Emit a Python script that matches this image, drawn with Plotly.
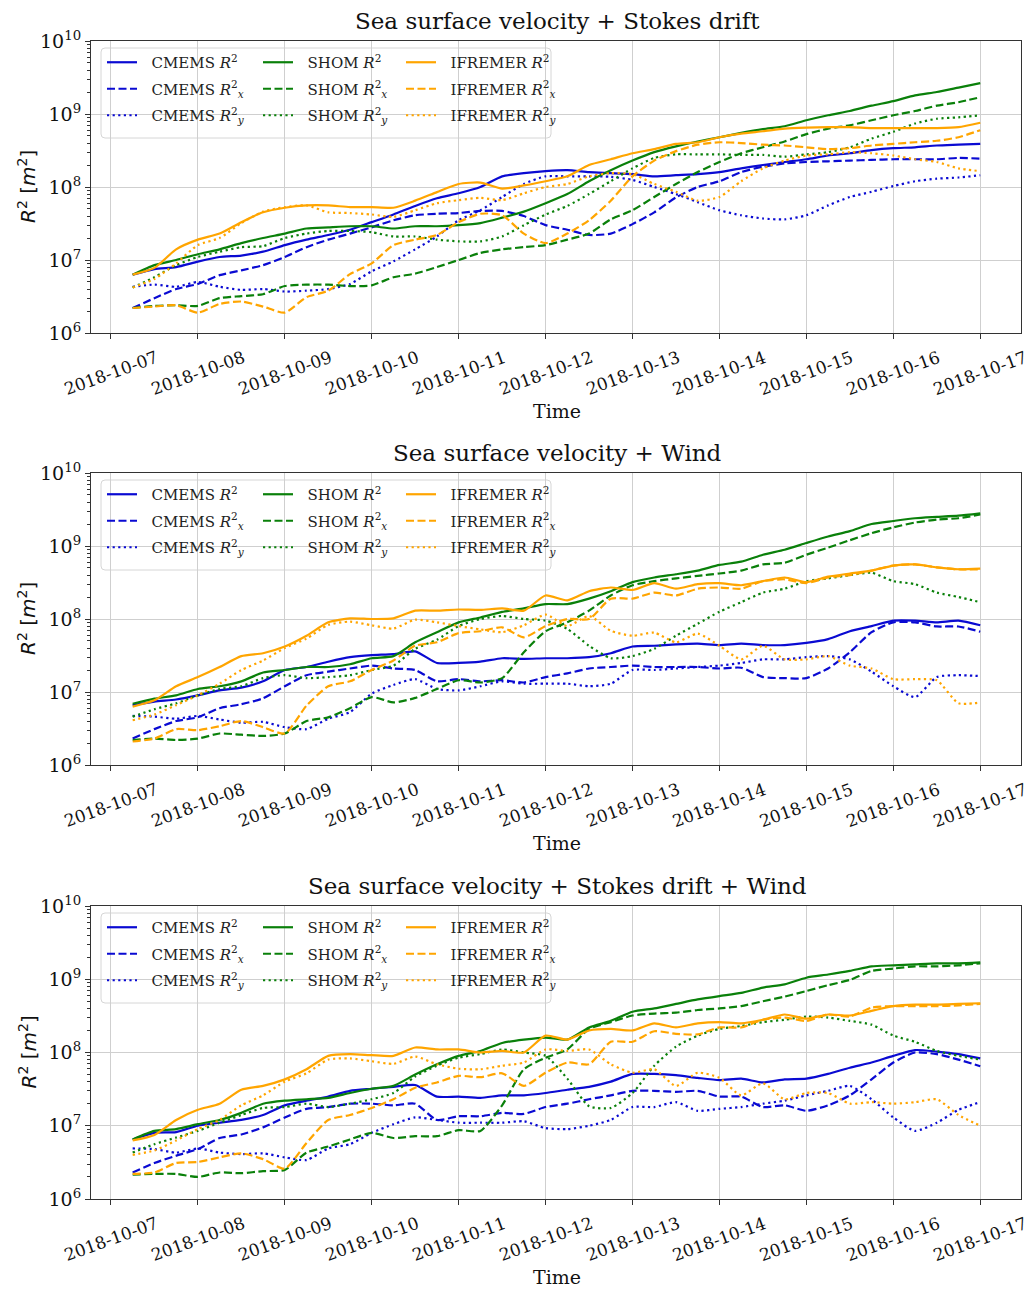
import pandas as pd
import plotly.graph_objects as go

# ---------------- data ----------------
times = pd.date_range("2018-10-07 06:00", periods=40, freq="6h")
day_ticks = pd.date_range("2018-10-07", "2018-10-17", freq="D")
tick_labels = [d.strftime("%Y-%m-%d") for d in day_ticks]

panel_titles = ["Sea surface velocity + Stokes drift",
                "Sea surface velocity + Wind",
                "Sea surface velocity + Stokes drift + Wind"]
sources = ["CMEMS", "SHOM", "IFREMER"]

# Panel 1: Stokes drift
stokes_cmems_r2 = [6.3e6, 7.5e6, 8.0e6, 9.5e6, 1.1e7, 1.15e7, 1.3e7, 1.6e7, 1.9e7, 2.2e7,
                   2.6e7, 3.3e7, 4.2e7, 5.5e7, 7.0e7, 8.2e7, 1.0e8, 1.4e8, 1.55e8, 1.65e8,
                   1.7e8, 1.6e8, 1.55e8, 1.5e8, 1.4e8, 1.45e8, 1.5e8, 1.6e8, 1.8e8, 2.0e8,
                   2.2e8, 2.4e8, 2.7e8, 2.9e8, 3.2e8, 3.4e8, 3.5e8, 3.7e8, 3.8e8, 3.9e8]
stokes_cmems_rx = [2.2e6, 3.0e6, 4.0e6, 4.7e6, 6.2e6, 7.2e6, 8.5e6, 1.1e7, 1.5e7, 1.9e7,
                   2.3e7, 2.8e7, 3.5e7, 4.1e7, 4.3e7, 4.4e7, 4.7e7, 4.7e7, 4.0e7, 3.0e7,
                   2.6e7, 2.2e7, 2.3e7, 3.1e7, 4.5e7, 7.2e7, 1.0e8, 1.2e8, 1.6e8, 1.9e8,
                   2.1e8, 2.2e8, 2.25e8, 2.3e8, 2.35e8, 2.4e8, 2.4e8, 2.4e8, 2.5e8, 2.45e8]
stokes_cmems_ry = [4.3e6, 4.6e6, 4.3e6, 5.0e6, 4.3e6, 3.9e6, 4.0e6, 3.7e6, 3.8e6, 4.0e6,
                   4.7e6, 7.0e6, 9.6e6, 1.4e7, 2.1e7, 3.5e7, 4.8e7, 7.3e7, 1.1e8, 1.4e8,
                   1.4e8, 1.4e8, 1.38e8, 1.25e8, 1.0e8, 8.0e7, 6.2e7, 4.8e7, 4.1e7, 3.7e7,
                   3.6e7, 4.1e7, 5.6e7, 7.3e7, 8.6e7, 1.03e8, 1.2e8, 1.3e8, 1.35e8, 1.45e8]
stokes_shom_r2 = [6.3e6, 8.5e6, 1.0e7, 1.2e7, 1.4e7, 1.7e7, 2.0e7, 2.3e7, 2.7e7, 2.8e7,
                  2.9e7, 2.9e7, 2.7e7, 2.9e7, 2.9e7, 3.0e7, 3.2e7, 3.8e7, 4.6e7, 6.0e7,
                  8.0e7, 1.2e8, 1.7e8, 2.3e8, 3.0e8, 3.6e8, 4.2e8, 4.8e8, 5.5e8, 6.2e8,
                  6.8e8, 8.2e8, 9.6e8, 1.1e9, 1.3e9, 1.5e9, 1.8e9, 2.0e9, 2.3e9, 2.65e9]
stokes_shom_rx = [2.2e6, 2.35e6, 2.4e6, 2.35e6, 3.0e6, 3.2e6, 3.4e6, 4.4e6, 4.6e6, 4.6e6,
                  4.4e6, 4.5e6, 5.8e6, 6.5e6, 8.0e6, 1.0e7, 1.25e7, 1.4e7, 1.5e7, 1.6e7,
                  1.9e7, 2.3e7, 3.6e7, 4.8e7, 7.3e7, 1.1e8, 1.6e8, 2.2e8, 2.9e8, 3.5e8,
                  4.2e8, 5.3e8, 6.3e8, 7.0e8, 8.2e8, 9.6e8, 1.1e9, 1.3e9, 1.45e9, 1.7e9]
stokes_shom_ry = [4.2e6, 5.8e6, 8.5e6, 1.1e7, 1.3e7, 1.5e7, 1.55e7, 2.0e7, 2.3e7, 2.5e7,
                  2.5e7, 2.4e7, 2.1e7, 2.1e7, 1.9e7, 1.8e7, 1.8e7, 2.1e7, 3.0e7, 4.2e7,
                  5.5e7, 8.0e7, 1.2e8, 1.8e8, 2.5e8, 2.8e8, 2.8e8, 2.8e8, 2.75e8, 2.75e8,
                  2.6e8, 2.8e8, 3.0e8, 3.5e8, 4.6e8, 5.7e8, 7.4e8, 8.6e8, 9.0e8, 9.6e8]
stokes_ifremer_r2 = [6.3e6, 7.8e6, 1.4e7, 1.9e7, 2.3e7, 3.3e7, 4.5e7, 5.2e7, 5.6e7, 5.6e7,
                     5.3e7, 5.3e7, 5.2e7, 6.5e7, 8.5e7, 1.1e8, 1.15e8, 9.5e7, 1.05e8, 1.2e8,
                     1.4e8, 2.0e8, 2.4e8, 2.9e8, 3.3e8, 3.9e8, 4.1e8, 4.8e8, 5.4e8, 5.8e8,
                     6.3e8, 6.5e8, 6.6e8, 6.6e8, 6.4e8, 6.4e8, 6.4e8, 6.4e8, 6.6e8, 7.6e8]
stokes_ifremer_rx = [2.2e6, 2.3e6, 2.4e6, 1.9e6, 2.5e6, 2.7e6, 2.3e6, 1.9e6, 3.1e6, 3.8e6,
                     6.4e6, 9.0e6, 1.6e7, 1.9e7, 2.2e7, 3.3e7, 4.3e7, 4.1e7, 2.3e7, 1.7e7,
                     2.3e7, 3.5e7, 6.5e7, 1.4e8, 2.3e8, 3.1e8, 3.8e8, 4.1e8, 4.0e8, 3.8e8,
                     3.7e8, 3.5e8, 3.3e8, 3.4e8, 3.7e8, 3.9e8, 4.1e8, 4.3e8, 4.8e8, 6.0e8]
stokes_ifremer_ry = [4.2e6, 5.5e6, 9.0e6, 1.6e7, 2.0e7, 3.2e7, 4.6e7, 5.3e7, 5.6e7, 4.5e7,
                     4.4e7, 4.2e7, 3.9e7, 4.8e7, 6.0e7, 6.6e7, 7.1e7, 6.6e7, 8.2e7, 1.0e8,
                     1.1e8, 1.4e8, 1.55e8, 1.5e8, 1.1e8, 8.6e7, 6.5e7, 7.3e7, 1.2e8, 1.8e8,
                     2.3e8, 2.7e8, 2.8e8, 3.0e8, 2.9e8, 2.7e8, 2.4e8, 2.2e8, 1.8e8, 1.65e8]

# Panel 2: Wind
wind_cmems_r2 = [6.6e6, 7.4e6, 7.9e6, 9.0e6, 1.05e7, 1.15e7, 1.4e7, 2.0e7, 2.2e7, 2.6e7,
                 3.0e7, 3.2e7, 3.3e7, 3.6e7, 2.5e7, 2.5e7, 2.6e7, 2.9e7, 2.85e7, 2.9e7,
                 2.9e7, 3.0e7, 3.4e7, 4.2e7, 4.3e7, 4.5e7, 4.6e7, 4.4e7, 4.6e7, 4.4e7,
                 4.4e7, 4.7e7, 5.3e7, 6.8e7, 8.0e7, 9.5e7, 9.5e7, 9.0e7, 9.5e7, 8.2e7]
wind_cmems_rx = [2.3e6, 3.1e6, 4.0e6, 4.5e6, 6.0e6, 6.8e6, 8.2e6, 1.2e7, 1.7e7, 1.9e7,
                 2.1e7, 2.3e7, 2.1e7, 2.0e7, 1.4e7, 1.5e7, 1.4e7, 1.45e7, 1.35e7, 1.6e7,
                 1.8e7, 2.1e7, 2.2e7, 2.3e7, 2.2e7, 2.2e7, 2.2e7, 2.1e7, 2.15e7, 1.6e7,
                 1.55e7, 1.55e7, 2.1e7, 3.5e7, 6.6e7, 9.0e7, 9.0e7, 7.9e7, 7.9e7, 6.7e7]
wind_cmems_ry = [4.7e6, 4.6e6, 4.3e6, 4.7e6, 4.2e6, 3.8e6, 3.9e6, 3.3e6, 3.1e6, 4.3e6,
                 5.3e6, 9.5e6, 1.25e7, 1.5e7, 1.1e7, 1.05e7, 1.2e7, 1.4e7, 1.3e7, 1.3e7,
                 1.3e7, 1.2e7, 1.3e7, 2.0e7, 2.0e7, 2.1e7, 2.2e7, 2.3e7, 2.5e7, 2.8e7,
                 2.8e7, 3.0e7, 3.1e7, 2.8e7, 1.9e7, 1.2e7, 8.5e6, 1.6e7, 1.7e7, 1.65e7]
wind_shom_r2 = [6.9e6, 8.1e6, 9.0e6, 1.1e7, 1.2e7, 1.4e7, 1.85e7, 2.0e7, 2.2e7, 2.2e7,
                2.4e7, 2.9e7, 3.1e7, 4.8e7, 6.6e7, 9.0e7, 1.05e8, 1.25e8, 1.4e8, 1.6e8,
                1.6e8, 1.9e8, 2.4e8, 3.2e8, 3.7e8, 4.1e8, 4.6e8, 5.5e8, 6.1e8, 7.6e8,
                8.9e8, 1.1e9, 1.35e9, 1.6e9, 2.0e9, 2.2e9, 2.4e9, 2.5e9, 2.6e9, 2.8e9]
wind_shom_rx = [2.2e6, 2.3e6, 2.2e6, 2.3e6, 2.7e6, 2.6e6, 2.5e6, 2.7e6, 4.0e6, 4.5e6,
                6.0e6, 8.5e6, 7.2e6, 8.3e6, 1.1e7, 1.45e7, 1.35e7, 1.55e7, 3.5e7, 6.8e7,
                9.0e7, 1.3e8, 2.1e8, 2.9e8, 3.3e8, 3.6e8, 3.9e8, 4.2e8, 4.6e8, 5.6e8,
                5.9e8, 7.6e8, 9.5e8, 1.2e9, 1.5e9, 1.8e9, 2.1e9, 2.3e9, 2.4e9, 2.7e9]
wind_shom_ry = [4.6e6, 5.8e6, 7.0e6, 9.0e6, 1.1e7, 1.2e7, 1.55e7, 1.7e7, 1.55e7, 1.6e7,
                1.7e7, 2.0e7, 2.3e7, 3.9e7, 5.2e7, 8.0e7, 1.0e8, 1.1e8, 1.0e8, 9.5e7,
                7.3e7, 4.3e7, 2.9e7, 3.1e7, 3.9e7, 5.9e7, 8.6e7, 1.26e8, 1.7e8, 2.3e8,
                2.6e8, 3.3e8, 3.6e8, 4.0e8, 4.3e8, 3.3e8, 3.0e8, 2.3e8, 2.0e8, 1.7e8]
wind_ifremer_r2 = [6.3e6, 7.7e6, 1.2e7, 1.6e7, 2.2e7, 3.1e7, 3.4e7, 4.2e7, 5.9e7, 9.0e7,
                   1.02e8, 1.0e8, 1.02e8, 1.3e8, 1.3e8, 1.35e8, 1.33e8, 1.4e8, 1.3e8, 2.1e8,
                   1.8e8, 2.4e8, 2.7e8, 2.5e8, 3.1e8, 2.6e8, 3.0e8, 3.1e8, 2.9e8, 3.3e8,
                   3.7e8, 3.2e8, 3.8e8, 4.2e8, 4.6e8, 5.4e8, 5.6e8, 5.1e8, 4.8e8, 4.9e8]
wind_ifremer_rx = [2.1e6, 2.3e6, 3.1e6, 3.0e6, 3.4e6, 4.0e6, 3.3e6, 2.7e6, 6.5e6, 1.2e7,
                   1.4e7, 2.0e7, 2.7e7, 4.3e7, 4.8e7, 6.4e7, 6.8e7, 7.7e7, 5.6e7, 8.0e7,
                   1.0e8, 1.0e8, 1.9e8, 1.9e8, 2.3e8, 2.1e8, 2.6e8, 2.7e8, 2.6e8, 3.3e8,
                   3.5e8, 3.1e8, 3.7e8, 4.0e8, 4.6e8, 5.4e8, 5.6e8, 5.1e8, 4.8e8, 4.8e8]
wind_ifremer_ry = [4.1e6, 4.9e6, 6.6e6, 9.0e6, 1.3e7, 2.0e7, 2.7e7, 4.0e7, 5.4e7, 8.3e7,
                   9.2e7, 8.2e7, 7.4e7, 9.8e7, 9.0e7, 8.0e7, 7.2e7, 6.6e7, 8.2e7, 1.15e8,
                   8.0e7, 1.1e8, 6.9e7, 5.9e7, 6.5e7, 4.8e7, 6.3e7, 4.3e7, 2.8e7, 4.3e7,
                   2.8e7, 2.8e7, 3.1e7, 2.3e7, 2.1e7, 1.5e7, 1.5e7, 1.45e7, 7.0e6, 7.2e6]

# Panel 3: Stokes drift + Wind
both_cmems_r2 = [6.5e6, 8.0e6, 8.2e6, 1.0e7, 1.1e7, 1.2e7, 1.4e7, 1.9e7, 2.2e7, 2.5e7,
                 3.0e7, 3.2e7, 3.4e7, 3.6e7, 2.5e7, 2.5e7, 2.4e7, 2.6e7, 2.6e7, 2.8e7,
                 3.1e7, 3.4e7, 4.0e7, 5.1e7, 5.1e7, 4.9e7, 4.5e7, 4.2e7, 4.4e7, 3.9e7,
                 4.3e7, 4.4e7, 5.1e7, 6.2e7, 7.3e7, 9.0e7, 1.08e8, 1.03e8, 9.5e7, 8.3e7]
both_cmems_rx = [2.3e6, 3.1e6, 3.9e6, 4.8e6, 6.8e6, 7.6e6, 9.5e6, 1.3e7, 1.7e7, 1.8e7,
                 2.0e7, 2.0e7, 1.9e7, 2.0e7, 1.2e7, 1.35e7, 1.35e7, 1.5e7, 1.45e7, 1.8e7,
                 2.0e7, 2.3e7, 2.6e7, 3.0e7, 3.0e7, 2.9e7, 3.0e7, 2.5e7, 2.5e7, 1.8e7,
                 1.9e7, 1.6e7, 1.9e7, 2.6e7, 4.3e7, 7.3e7, 1.0e8, 9.5e7, 8.0e7, 6.5e7]
both_cmems_ry = [4.9e6, 4.8e6, 4.3e6, 4.9e6, 4.3e6, 4.1e6, 4.2e6, 3.7e6, 3.4e6, 4.9e6,
                 5.6e6, 8.0e6, 1.05e7, 1.3e7, 1.2e7, 1.1e7, 1.1e7, 1.1e7, 1.15e7, 9.3e6,
                 9.0e6, 1.0e7, 1.2e7, 1.8e7, 1.8e7, 2.1e7, 1.6e7, 1.7e7, 1.8e7, 2.0e7,
                 2.2e7, 2.6e7, 3.0e7, 3.5e7, 2.3e7, 1.3e7, 8.5e6, 1.1e7, 1.65e7, 2.1e7]
both_shom_r2 = [6.5e6, 8.5e6, 9.0e6, 1.05e7, 1.2e7, 1.5e7, 2.0e7, 2.2e7, 2.3e7, 2.4e7,
                2.8e7, 3.2e7, 3.5e7, 5.0e7, 6.9e7, 9.0e7, 1.05e8, 1.35e8, 1.5e8, 1.6e8,
                1.5e8, 2.2e8, 2.7e8, 3.6e8, 4.0e8, 4.6e8, 5.3e8, 5.9e8, 6.5e8, 7.7e8,
                8.5e8, 1.05e9, 1.16e9, 1.3e9, 1.5e9, 1.55e9, 1.6e9, 1.65e9, 1.65e9, 1.7e9]
both_shom_rx = [2.15e6, 2.2e6, 2.2e6, 2.0e6, 2.3e6, 2.25e6, 2.4e6, 2.5e6, 4.3e6, 5.2e6,
                6.5e6, 8.0e6, 6.8e6, 7.2e6, 7.2e6, 8.7e6, 8.5e6, 1.9e7, 5.9e7, 8.5e7,
                1.1e8, 2.1e8, 2.6e8, 3.2e8, 3.4e8, 3.5e8, 3.8e8, 4.0e8, 4.3e8, 5.0e8,
                5.8e8, 6.9e8, 8.3e8, 9.8e8, 1.3e9, 1.4e9, 1.5e9, 1.5e9, 1.55e9, 1.65e9]
both_shom_ry = [4.3e6, 5.6e6, 6.9e6, 8.5e6, 1.1e7, 1.4e7, 1.75e7, 1.8e7, 2.0e7, 1.8e7,
                2.0e7, 2.3e7, 2.8e7, 4.7e7, 6.6e7, 8.5e7, 9.5e7, 1.1e8, 1.0e8, 9.0e7,
                4.4e7, 1.85e7, 1.75e7, 2.8e7, 6.6e7, 1.2e8, 1.7e8, 2.1e8, 2.3e8, 2.6e8,
                2.8e8, 3.1e8, 3.0e8, 2.7e8, 2.4e8, 1.7e8, 1.4e8, 1.05e8, 9.0e7, 8.0e7]
both_ifremer_r2 = [6.3e6, 7.5e6, 1.2e7, 1.65e7, 2.0e7, 3.1e7, 3.5e7, 4.3e7, 5.9e7, 9.0e7,
                   9.5e7, 9.2e7, 9.0e7, 1.17e8, 1.1e8, 1.1e8, 1.0e8, 1.05e8, 1.0e8, 1.7e8,
                   1.5e8, 2.0e8, 2.1e8, 2.0e8, 2.5e8, 2.2e8, 2.5e8, 2.6e8, 2.5e8, 2.8e8,
                   3.3e8, 2.9e8, 3.3e8, 3.2e8, 3.7e8, 4.3e8, 4.5e8, 4.5e8, 4.6e8, 4.7e8]
both_ifremer_rx = [2.2e6, 2.3e6, 3.1e6, 3.2e6, 3.7e6, 4.2e6, 3.5e6, 2.6e6, 5.8e6, 1.2e7,
                   1.4e7, 1.75e7, 2.3e7, 3.3e7, 3.9e7, 4.8e7, 4.6e7, 5.2e7, 3.5e7, 5.3e7,
                   7.3e7, 6.9e7, 1.4e8, 1.4e8, 1.95e8, 1.8e8, 1.77e8, 2.2e8, 2.2e8, 2.8e8,
                   3.0e8, 2.7e8, 3.3e8, 3.1e8, 4.1e8, 4.3e8, 4.3e8, 4.3e8, 4.4e8, 4.6e8]
both_ifremer_ry = [4.0e6, 4.6e6, 6.3e6, 9.0e6, 1.2e7, 1.9e7, 2.6e7, 4.0e7, 5.2e7, 8.0e7,
                   8.3e7, 7.6e7, 7.0e7, 8.8e7, 6.9e7, 6.0e7, 5.9e7, 6.6e7, 7.3e7, 1.1e8,
                   1.05e8, 1.1e8, 6.9e7, 5.3e7, 5.9e7, 3.5e7, 5.3e7, 4.5e7, 2.6e7, 3.8e7,
                   2.3e7, 2.8e7, 2.8e7, 2.0e7, 2.1e7, 2.0e7, 2.1e7, 2.3e7, 1.4e7, 1.0e7]

panels = [
    {"CMEMS": [stokes_cmems_r2, stokes_cmems_rx, stokes_cmems_ry],
     "SHOM": [stokes_shom_r2, stokes_shom_rx, stokes_shom_ry],
     "IFREMER": [stokes_ifremer_r2, stokes_ifremer_rx, stokes_ifremer_ry]},
    {"CMEMS": [wind_cmems_r2, wind_cmems_rx, wind_cmems_ry],
     "SHOM": [wind_shom_r2, wind_shom_rx, wind_shom_ry],
     "IFREMER": [wind_ifremer_r2, wind_ifremer_rx, wind_ifremer_ry]},
    {"CMEMS": [both_cmems_r2, both_cmems_rx, both_cmems_ry],
     "SHOM": [both_shom_r2, both_shom_rx, both_shom_ry],
     "IFREMER": [both_ifremer_r2, both_ifremer_rx, both_ifremer_ry]},
]

# ---------------- styling ----------------
# The page body has an 8px margin, so the figure is a little smaller than the window.
W, H = 1027, 1282
ML, MR, MT, MB = 83, 14, 33, 91
PW, PH = W - ML - MR, H - MT - MB
OFF = 8
panel_px = [(41, 333), (473, 765), (906, 1199)]   # top, bottom rows in window pixels

colors = {"CMEMS": "#0a0ad2", "SHOM": "#0a800a", "IFREMER": "#ffa500"}
dashes = ["solid", "8px,3.5px", "2.2px,3.4px"]
comp_html = ["<i>R</i><sup>2</sup>", "<i>R</i><sup>2</sup><sub><i>x</i></sub>",
             "<i>R</i><sup>2</sup><sub><i>y</i></sub>"]
SERIF = "DejaVu Serif"
SANS = "DejaVu Sans"


def px_x(px):
    return (px - OFF - ML) / PW


def px_y(py):
    return 1 - (py - OFF - MT) / PH


fig = go.Figure()
layout = dict(width=W, height=H, margin=dict(l=ML, r=MR, t=MT, b=MB, autoexpand=False),
              paper_bgcolor="white", plot_bgcolor="white", showlegend=True,
              font=dict(family=SERIF, color="#111"))
annotations = []
shapes = []

legend_cols_px = [102, 258, 401]
for p, data in enumerate(panels):
    xa = "x" if p == 0 else f"x{p+1}"
    ya = "y" if p == 0 else f"y{p+1}"
    top, bot = panel_px[p]
    for c, src in enumerate(sources):
        k = p * 3 + c + 1
        lg = "legend" if k == 1 else f"legend{k}"
        for j in range(3):
            fig.add_trace(go.Scatter(
                x=times, y=data[src][j], mode="lines", xaxis=xa, yaxis=ya,
                name=f"&nbsp;&nbsp;{src} {comp_html[j]}", legend=lg, legendgroup=f"g{p}{c}{j}",
                line=dict(color=colors[src], width=2.2, dash=dashes[j],
                          shape="spline", smoothing=0.6),
            ))
        layout[lg] = dict(x=px_x(legend_cols_px[c]), y=px_y(top + 5), xanchor="left", yanchor="top",
                          bgcolor="rgba(0,0,0,0)", borderwidth=0, tracegroupgap=4,
                          font=dict(family=SERIF, size=15, color="#222"))
    dom = [px_y(bot), px_y(top)]
    xkey = "xaxis" if p == 0 else f"xaxis{p+1}"
    ykey = "yaxis" if p == 0 else f"yaxis{p+1}"
    layout[xkey] = dict(domain=[0, 1], anchor=ya, type="date",
                        range=["2018-10-06 18:30", "2018-10-17 11:15"],
                        tickmode="array", tickvals=list(day_ticks), showticklabels=False,
                        ticks="outside", ticklen=5, tickwidth=1, tickcolor="#333",
                        showgrid=True, gridcolor="#cfcfcf", gridwidth=1,
                        showline=True, linecolor="#333", linewidth=1.2, mirror=True,
                        zeroline=False)
    layout[ykey] = dict(domain=dom, anchor=xa, type="log", range=[6, 10],
                        tickmode="array", tickvals=[1e6, 1e7, 1e8, 1e9, 1e10],
                        ticktext=[f"10<sup>{e}</sup>" for e in range(6, 11)],
                        ticks="outside", ticklen=5, tickwidth=1, tickcolor="#333",
                        tickfont=dict(family=SERIF, size=19, color="#111"),
                        minor=dict(tickmode="array",
                                   tickvals=[m * 10 ** e for e in range(6, 10) for m in range(2, 10)],
                                   ticks="outside", ticklen=3, tickcolor="#333", showgrid=False),
                        showgrid=True, gridcolor="#cfcfcf", gridwidth=1,
                        showline=True, linecolor="#333", linewidth=1.2, mirror=True,
                        zeroline=False)
    # x tick labels (rotated, centred on ticks)
    for d, lab in zip(day_ticks, tick_labels):
        annotations.append(dict(x=d, xref=xa, y=-11 / (bot - top), yref=f"{ya} domain",
                                text=lab, textangle=-20, xanchor="center", yanchor="top",
                                showarrow=False, font=dict(family=SERIF, size=17, color="#111")))
    # title
    annotations.append(dict(x=px_x(557), xref="paper", y=px_y(top - 20), yref="paper", text=panel_titles[p],
                            showarrow=False, xanchor="center", yanchor="middle",
                            font=dict(family=SERIF, size=23, color="#111")))
    # x label
    annotations.append(dict(x=px_x(557), xref="paper", y=px_y(bot + 78), yref="paper", text="Time",
                            showarrow=False, xanchor="center", yanchor="middle",
                            font=dict(family=SERIF, size=19, color="#111")))
    # y label
    annotations.append(dict(x=px_x(27), xref="paper", y=px_y((top + bot) / 2), yref="paper",
                            text="<i>R</i><sup>2</sup> [<i>m</i><sup>2</sup>]", textangle=-90,
                            showarrow=False, xanchor="center", yanchor="middle",
                            font=dict(family=SANS, size=20, color="#111")))
    # legend frame (rounded rectangle)
    x0, x1 = px_x(101), px_x(551)
    y0, y1 = px_y(top + 97), px_y(top + 7)
    rx, ry = 4 / PW, 4 / PH
    path = (f"M {x0+rx},{y1} L {x1-rx},{y1} Q {x1},{y1} {x1},{y1-ry} L {x1},{y0+ry} "
            f"Q {x1},{y0} {x1-rx},{y0} L {x0+rx},{y0} Q {x0},{y0} {x0},{y0+ry} "
            f"L {x0},{y1-ry} Q {x0},{y1} {x0+rx},{y1} Z")
    shapes.append(dict(type="path", path=path, xref="paper", yref="paper", layer="between",
                       fillcolor="rgba(255,255,255,0.8)", line=dict(color="#d6d6d6", width=1)))

layout["annotations"] = annotations
layout["shapes"] = shapes
fig.update_layout(**layout)
fig.write_html("out.html")
